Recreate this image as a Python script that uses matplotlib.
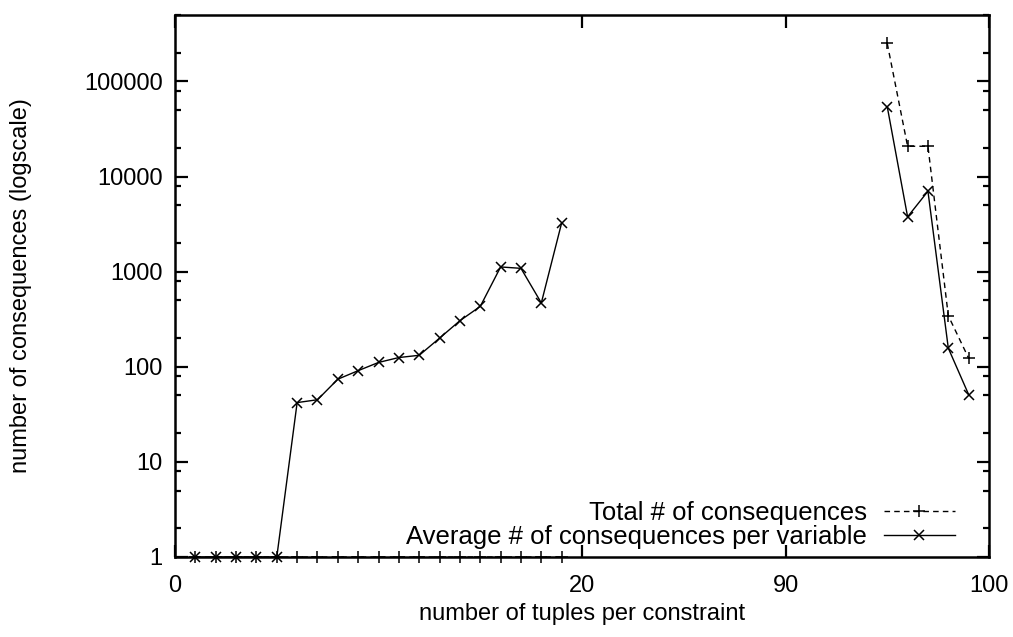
import numpy as np
import matplotlib
matplotlib.use("Agg")
import matplotlib.pyplot as plt
from matplotlib.ticker import FixedLocator, NullFormatter

plt.rcParams['font.family'] = ['Liberation Sans', 'DejaVu Sans']

# tuples per constraint (low range and high range)
tuples_low = list(range(1, 20))
tuples_high = [95, 96, 97, 98, 99]

total_low = [1] * 19
avg_low = [1, 1, 1, 1, 1, 42, 45, 74, 91, 111, 125, 132, 200, 305, 431,
           1120, 1083, 469, 3260]

total_high = [251000, 20800, 20800, 344, 123]
avg_high = [54200, 3770, 7000, 157, 51]

xtick_values = [0, 20, 90, 100]
ytick_values = [1, 10, 100, 1000, 10000, 100000]


def axis_pos(t):
    """Broken x axis: 0..20 shown as is, 90..100 appended right after 20 + 10."""
    t = np.asarray(t, dtype=float)
    return np.where(t <= 20, t, t - 60)


fig = plt.figure(figsize=(10.13, 6.37), dpi=100)
ax = fig.add_axes([0.1728, 0.1256, 0.8035, 0.851])

x_low = axis_pos(tuples_low)
x_high = axis_pos(tuples_high)
x_all = np.concatenate([x_low, [np.nan], x_high])
total_all = np.concatenate([total_low, [np.nan], total_high])
avg_all = np.concatenate([avg_low, [np.nan], avg_high])

ax.plot(x_all, total_all, color='black', lw=1.0, linestyle=(0, (4, 3)),
        marker='+', markersize=8, markeredgewidth=1.1, clip_on=False,
        label='Total # of consequences', zorder=3)
ax.plot(x_all, avg_all, color='black', lw=1.0, linestyle='-',
        marker='x', markersize=7.5, markeredgewidth=1.1, clip_on=False,
        label='Average # of consequences per variable', zorder=3)

ax.set_yscale('log')
ax.set_ylim(1, 500000)
ax.set_xlim(0, 40)

ax.yaxis.set_major_locator(FixedLocator(ytick_values))
ax.set_yticklabels([str(v) for v in ytick_values])
minor = []
for dec in [1, 10, 100, 1000, 10000, 100000]:
    for m in (2, 5, 8):
        if dec * m <= 500000:
            minor.append(dec * m)
ax.yaxis.set_minor_locator(FixedLocator(minor))
ax.yaxis.set_minor_formatter(NullFormatter())

ax.set_xticks(axis_pos(xtick_values))
ax.set_xticklabels([str(v) for v in xtick_values])
ax.xaxis.set_minor_locator(FixedLocator([]))

ax.tick_params(axis='both', which='major', direction='in', length=9, width=1.6,
               labelsize=17, top=True, right=True, colors='black')
ax.tick_params(axis='y', which='major', pad=9)
ax.tick_params(axis='y', which='minor', direction='in', length=4.5, width=1.6,
               left=True, right=True)
ax.tick_params(axis='x', which='major', pad=13)

for s in ax.spines.values():
    s.set_linewidth(1.8)

ax.set_xlabel('number of tuples per constraint', fontsize=17, labelpad=4)
ax.set_ylabel('number of consequences (logscale)', fontsize=17, labelpad=37)

leg = ax.legend(loc='lower right', bbox_to_anchor=(0.964, 0.006), frameon=False,
                markerfirst=False, fontsize=18.5, handlelength=2.75,
                handletextpad=0.65, labelspacing=0.0, borderaxespad=0.0,
                borderpad=0.2)
for t in leg.get_texts():
    t.set_ha('right')

fig.savefig('out.png', dpi=100)
